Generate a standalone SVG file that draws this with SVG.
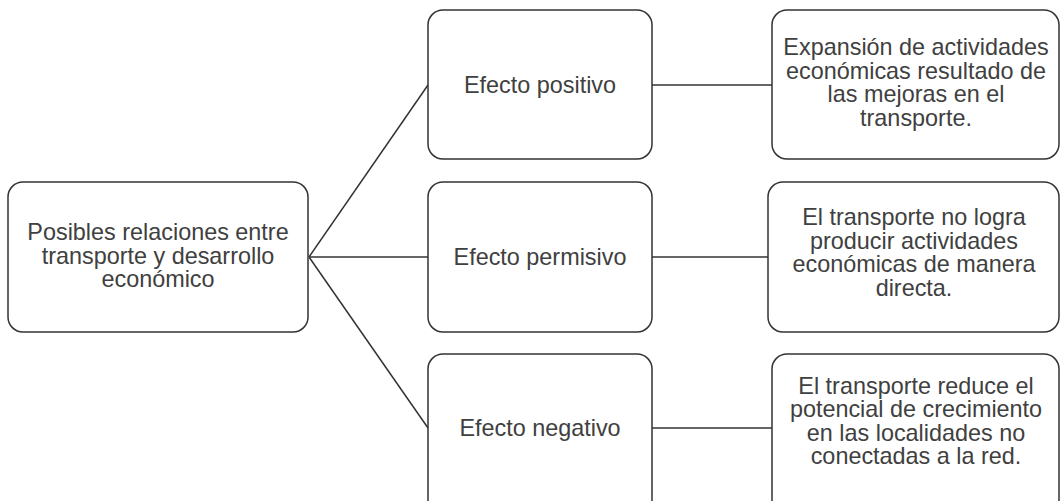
<svg xmlns="http://www.w3.org/2000/svg" width="1060" height="501" viewBox="0 0 1060 501">
  <style>
    .box { fill: #ffffff; stroke: #333333; stroke-width: 1.5; }
    .lbl { font-family: "Liberation Sans", Arial, sans-serif; font-size: 23.4px; fill: #404040; text-anchor: middle; }
    .link { stroke: #333333; stroke-width: 1.5; fill: none; }
  </style>
  <rect width="1060" height="501" fill="#ffffff"/>

  <!-- connectors -->
  <g id="connectors">
    <line class="link" x1="309" y1="257" x2="428" y2="85"/>
    <line class="link" x1="309" y1="257" x2="428" y2="257"/>
    <line class="link" x1="309" y1="257" x2="428" y2="428"/>
    <line class="link" x1="652" y1="85" x2="772" y2="85"/>
    <line class="link" x1="652" y1="257" x2="768" y2="257"/>
    <line class="link" x1="652" y1="428" x2="772" y2="428"/>
  </g>

  <!-- root -->
  <g id="root">
    <rect class="box" x="8" y="182" width="300" height="150" rx="15"/>
    <text class="lbl" x="158" y="240">Posibles relaciones entre</text>
    <text class="lbl" x="158" y="263.5">transporte y desarrollo</text>
    <text class="lbl" x="158" y="287">económico</text>
  </g>

  <!-- effects -->
  <g id="efecto-positivo">
    <rect class="box" x="428" y="10" width="224" height="149" rx="15"/>
    <text class="lbl" x="540" y="92.5">Efecto positivo</text>
  </g>
  <g id="efecto-permisivo">
    <rect class="box" x="428" y="182" width="224" height="150" rx="15"/>
    <text class="lbl" x="540" y="265">Efecto permisivo</text>
  </g>
  <g id="efecto-negativo">
    <rect class="box" x="428" y="354" width="224" height="160" rx="15"/>
    <text class="lbl" x="540" y="436">Efecto negativo</text>
  </g>

  <!-- descriptions -->
  <g id="desc-positivo">
    <rect class="box" x="772" y="10" width="287" height="149" rx="15"/>
    <text class="lbl" x="916" y="55">Expansión de actividades</text>
    <text class="lbl" x="916" y="78.5">económicas resultado de</text>
    <text class="lbl" x="916" y="102">las mejoras en el</text>
    <text class="lbl" x="916" y="125.5">transporte.</text>
  </g>
  <g id="desc-permisivo">
    <rect class="box" x="768" y="182" width="291" height="150" rx="15"/>
    <text class="lbl" x="914" y="225">El transporte no logra</text>
    <text class="lbl" x="914" y="248.5">producir actividades</text>
    <text class="lbl" x="914" y="272">económicas de manera</text>
    <text class="lbl" x="914" y="295.5">directa.</text>
  </g>
  <g id="desc-negativo">
    <rect class="box" x="772" y="354" width="287" height="160" rx="15"/>
    <text class="lbl" x="916" y="393.5">El transporte reduce el</text>
    <text class="lbl" x="916" y="417">potencial de crecimiento</text>
    <text class="lbl" x="916" y="440.5">en las localidades no</text>
    <text class="lbl" x="916" y="464">conectadas a la red.</text>
  </g>
</svg>
